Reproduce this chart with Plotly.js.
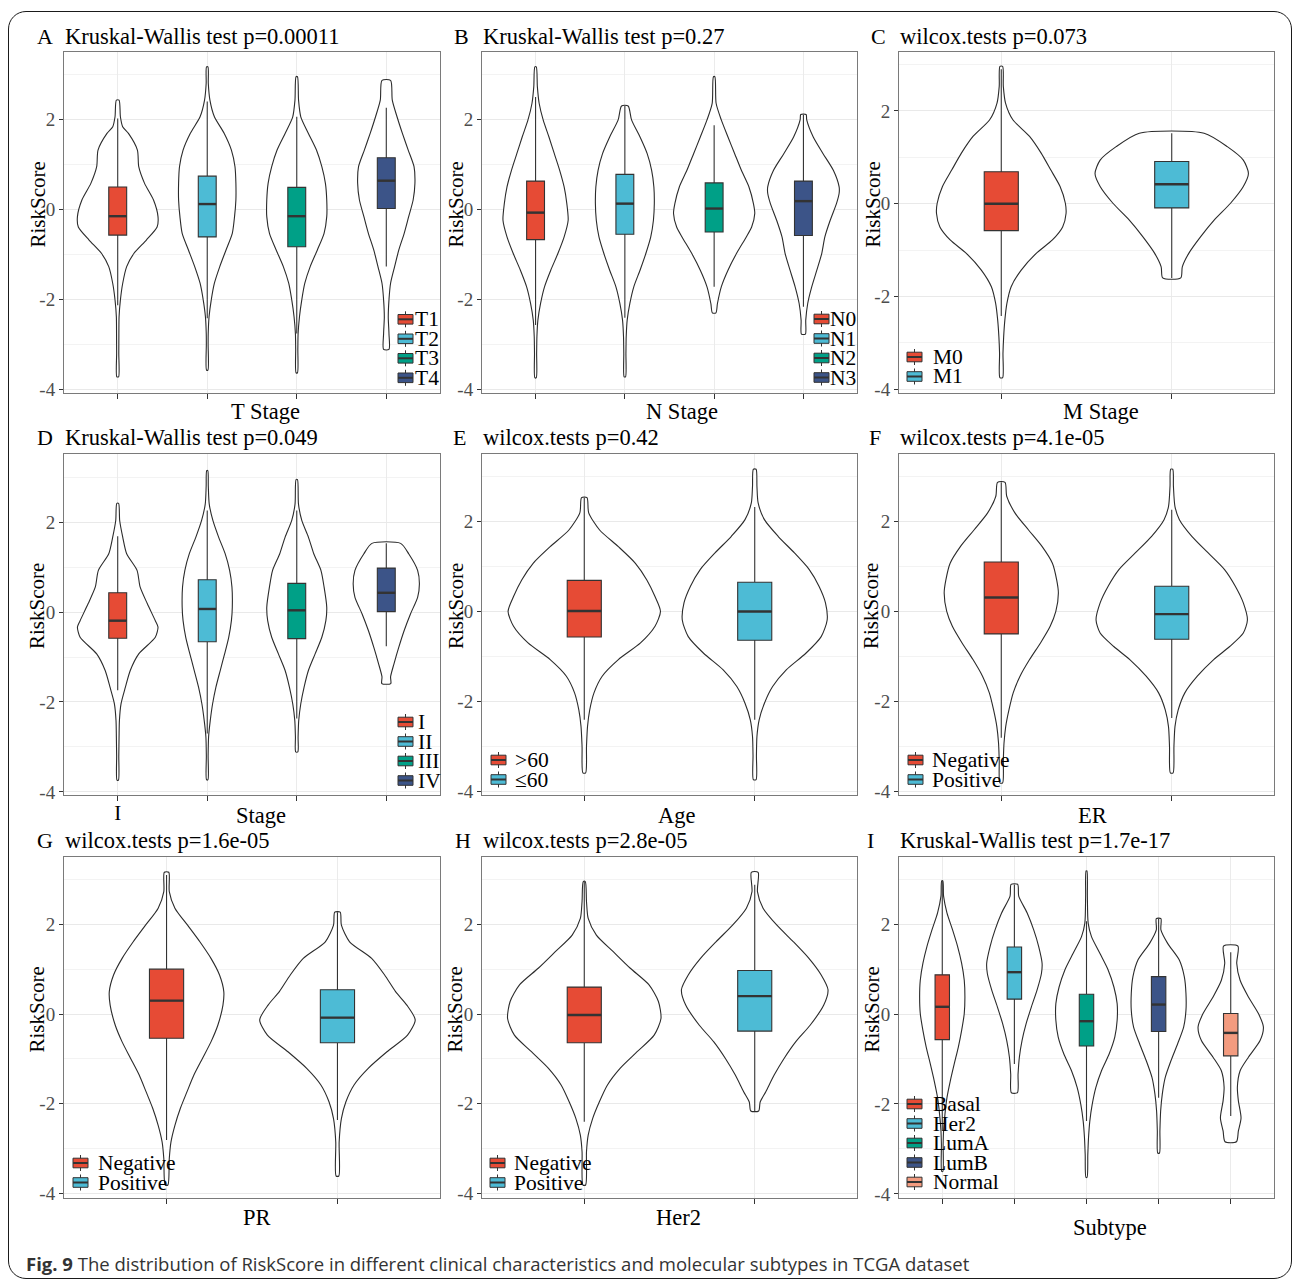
<!DOCTYPE html>
<html><head><meta charset="utf-8">
<script src="https://cdn.plot.ly/plotly-3.0.1.min.js"></script>
<style>
html,body{margin:0;padding:0;background:#fff;}
#wrap{position:relative;width:1295px;height:1282px;overflow:hidden;}
#chart{position:absolute;left:0;top:0;width:1295px;height:1282px;}
#frame{position:absolute;left:8px;top:11px;width:1282px;height:1266px;border:1.5px solid #1a1a1a;border-radius:18px;pointer-events:none;}
</style></head>
<body><div id="wrap"><div id="chart"></div><div id="frame"></div></div>
<script>
// ---------------- DATA ----------------
const yTickVals = [-4, -2, 0, 2];
const yTickText = ['-4', '-2', '0', '2'];
const npgColors = ['#E64B35', '#4DBBD5', '#00A087', '#3C5488', '#F39B7F'];

// A: T Stage
const tStageGroups = ['T1', 'T2', 'T3', 'T4'];
const tStageQ1 = [-0.57, -0.61, -0.83, 0.02];
const tStageMedian = [-0.15, 0.12, -0.15, 0.64];
const tStageQ3 = [0.50, 0.74, 0.49, 1.15];
const tStageLower = [-2.13, -2.42, -2.76, -1.27];
const tStageUpper = [2.02, 2.40, 2.06, 2.26];
const tStageViolinY = [
  [-3.72, -3.2, -2.76, -2.39, -2.01, -1.64, -1.27, -0.98, -0.68, -0.39, -0.16, 0.21, 0.58, 0.95, 1.32, 1.69, 1.84, 2.06, 2.43],
  [-3.57, -3.0, -2.76, -2.39, -2.01, -1.64, -1.27, -0.9, -0.53, -0.16, 0.21, 0.58, 0.95, 1.32, 1.69, 2.06, 2.43, 2.8, 3.17],
  [-3.63, -3.1, -2.76, -2.39, -2.01, -1.64, -1.27, -0.9, -0.53, -0.16, 0.21, 0.58, 0.95, 1.32, 1.69, 2.06, 2.43, 2.95],
  [-3.11, -2.76, -2.39, -2.01, -1.64, -1.27, -0.9, -0.53, -0.16, 0.21, 0.58, 0.95, 1.32, 1.69, 2.06, 2.43, 2.87]
];
const tStageViolinHalfWidth = [
  [0.01, 0.012, 0.013, 0.015, 0.03, 0.056, 0.10, 0.18, 0.32, 0.44, 0.45, 0.40, 0.30, 0.235, 0.22, 0.12, 0.055, 0.03, 0.015],
  [0.008, 0.01, 0.011, 0.02, 0.045, 0.08, 0.14, 0.21, 0.28, 0.305, 0.32, 0.32, 0.31, 0.27, 0.19, 0.08, 0.03, 0.012, 0.008],
  [0.008, 0.012, 0.015, 0.03, 0.056, 0.09, 0.15, 0.23, 0.305, 0.335, 0.335, 0.32, 0.28, 0.22, 0.13, 0.045, 0.02, 0.008],
  [0.03, 0.03, 0.022, 0.03, 0.048, 0.093, 0.14, 0.2, 0.25, 0.30, 0.32, 0.31, 0.245, 0.18, 0.12, 0.067, 0.048]
];

// B: N Stage
const nStageGroups = ['N0', 'N1', 'N2', 'N3'];
const nStageQ1 = [-0.67, -0.55, -0.50, -0.58];
const nStageMedian = [-0.07, 0.13, 0.02, 0.185];
const nStageQ3 = [0.63, 0.78, 0.59, 0.63];
const nStageLower = [-2.57, -2.41, -1.72, -2.16];
const nStageUpper = [2.50, 2.30, 1.87, 2.11];
const nStageViolinY = [
  [-3.74, -3.2, -2.83, -2.46, -2.09, -1.72, -1.35, -0.98, -0.61, -0.24, 0.13, 0.5, 0.87, 1.24, 1.61, 1.99, 2.36, 2.73, 3.17],
  [-3.72, -3.2, -2.83, -2.46, -2.09, -1.72, -1.35, -0.98, -0.61, -0.24, 0.13, 0.5, 0.87, 1.24, 1.61, 1.99, 2.30],
  [-2.30, -2.09, -1.72, -1.35, -0.98, -0.61, -0.39, -0.09, 0.13, 0.5, 0.87, 1.24, 1.61, 1.99, 2.36, 2.95],
  [-2.77, -2.46, -2.09, -1.72, -1.35, -0.98, -0.61, -0.24, 0.13, 0.36, 0.5, 0.87, 1.24, 1.61, 1.99, 2.11]
];
const nStageViolinHalfWidth = [
  [0.008, 0.012, 0.015, 0.026, 0.056, 0.10, 0.17, 0.25, 0.32, 0.365, 0.35, 0.32, 0.27, 0.21, 0.15, 0.085, 0.04, 0.02, 0.008],
  [0.008, 0.012, 0.015, 0.026, 0.056, 0.10, 0.17, 0.235, 0.29, 0.32, 0.33, 0.325, 0.30, 0.25, 0.17, 0.075, 0.037],
  [0.02, 0.037, 0.08, 0.155, 0.25, 0.36, 0.42, 0.455, 0.44, 0.39, 0.305, 0.23, 0.155, 0.08, 0.022, 0.008],
  [0.022, 0.026, 0.048, 0.093, 0.15, 0.205, 0.24, 0.30, 0.37, 0.40, 0.40, 0.335, 0.22, 0.11, 0.037, 0.03]
];

// C: M Stage
const mStageGroups = ['M0', 'M1'];
const mStageQ1 = [-0.58, -0.09];
const mStageMedian = [0.0, 0.42];
const mStageQ3 = [0.69, 0.91];
const mStageLower = [-2.42, -1.60];
const mStageUpper = [2.90, 1.52];
const mStageViolinY = [
  [-3.75, -3.23, -2.87, -2.51, -2.15, -1.79, -1.43, -1.07, -0.78, -0.50, -0.21, 0.01, 0.37, 0.73, 1.09, 1.45, 1.81, 2.17, 2.53, 2.96],
  [-1.60, -1.36, -1.07, -0.71, -0.35, 0.01, 0.37, 0.65, 0.94, 1.23, 1.52]
];
const mStageViolinHalfWidth = [
  [0.008, 0.01, 0.014, 0.021, 0.033, 0.058, 0.117, 0.205, 0.30, 0.36, 0.38, 0.376, 0.345, 0.29, 0.234, 0.166, 0.068, 0.025, 0.012, 0.008],
  [0.053, 0.062, 0.10, 0.17, 0.25, 0.345, 0.42, 0.45, 0.42, 0.326, 0.19]
];

// D: Stage
const stageGroups = ['I', 'II', 'III', 'IV'];
const stageQ1 = [-0.58, -0.66, -0.59, 0.01];
const stageMedian = [-0.19, 0.07, 0.04, 0.43];
const stageQ3 = [0.43, 0.72, 0.64, 0.98];
const stageLower = [-1.74, -2.70, -2.37, -0.76];
const stageUpper = [1.69, 2.26, 2.26, 1.53];
const stageViolinY = [
  [-3.74, -3.2, -2.78, -2.41, -2.04, -1.67, -1.30, -0.93, -0.56, -0.33, -0.19, 0.19, 0.56, 0.93, 1.30, 1.67, 2.04, 2.42],
  [-3.73, -3.2, -2.78, -2.41, -2.04, -1.67, -1.30, -0.93, -0.56, -0.19, 0.11, 0.56, 0.93, 1.30, 1.67, 2.04, 2.41, 2.8, 3.15],
  [-3.11, -2.78, -2.41, -2.04, -1.67, -1.30, -0.93, -0.56, -0.19, 0.11, 0.56, 0.93, 1.30, 1.67, 2.04, 2.41, 2.95],
  [-1.59, -1.44, -1.15, -0.78, -0.41, -0.04, 0.33, 0.63, 0.93, 1.30, 1.53]
];
const stageViolinHalfWidth = [
  [0.008, 0.012, 0.015, 0.019, 0.037, 0.086, 0.14, 0.235, 0.42, 0.45, 0.42, 0.33, 0.25, 0.216, 0.10, 0.056, 0.022, 0.01],
  [0.008, 0.01, 0.015, 0.034, 0.06, 0.097, 0.145, 0.194, 0.24, 0.27, 0.28, 0.276, 0.25, 0.20, 0.127, 0.063, 0.022, 0.012, 0.006],
  [0.012, 0.015, 0.022, 0.045, 0.082, 0.13, 0.205, 0.28, 0.325, 0.335, 0.305, 0.27, 0.19, 0.13, 0.056, 0.019, 0.008],
  [0.05, 0.048, 0.086, 0.14, 0.2, 0.27, 0.35, 0.37, 0.35, 0.25, 0.16]
];

// E: Age
const ageGroups = ['>60', '≤60'];
const ageQ1 = [-0.57, -0.64];
const ageMedian = [0.01, 0.0];
const ageQ3 = [0.69, 0.65];
const ageLower = [-2.41, -2.41];
const ageUpper = [2.53, 2.32];
const ageViolinY = [
  [-3.59, -3.0, -2.56, -2.19, -1.81, -1.44, -1.07, -0.70, -0.33, 0.0, 0.33, 0.70, 1.07, 1.44, 1.81, 2.19, 2.53],
  [-3.74, -3.2, -2.78, -2.41, -2.04, -1.67, -1.30, -0.93, -0.56, -0.19, 0.19, 0.56, 0.93, 1.30, 1.67, 2.04, 2.41, 2.78, 3.16]
];
const ageViolinHalfWidth = [
  [0.008, 0.013, 0.019, 0.032, 0.057, 0.105, 0.20, 0.33, 0.415, 0.447, 0.415, 0.367, 0.30, 0.20, 0.09, 0.026, 0.016],
  [0.008, 0.01, 0.013, 0.026, 0.057, 0.105, 0.185, 0.30, 0.39, 0.425, 0.415, 0.377, 0.32, 0.233, 0.137, 0.057, 0.02, 0.013, 0.008]
];

// F: ER
const erGroups = ['Negative', 'Positive'];
const erQ1 = [-0.50, -0.62];
const erMedian = [0.31, -0.06];
const erQ3 = [1.10, 0.56];
const erLower = [-2.81, -2.37];
const erUpper = [2.87, 2.26];
const erViolinY = [
  [-3.81, -3.3, -2.93, -2.56, -2.19, -1.81, -1.44, -1.07, -0.70, -0.33, 0.0, 0.41, 0.70, 1.07, 1.44, 1.81, 2.19, 2.56, 2.87],
  [-3.59, -3.0, -2.56, -2.19, -1.81, -1.44, -1.07, -0.78, -0.48, -0.19, 0.19, 0.56, 0.93, 1.30, 1.67, 2.04, 2.33, 2.78, 3.16]
];
const erViolinHalfWidth = [
  [0.008, 0.012, 0.016, 0.026, 0.045, 0.07, 0.11, 0.166, 0.23, 0.287, 0.32, 0.335, 0.325, 0.30, 0.24, 0.16, 0.08, 0.032, 0.022],
  [0.008, 0.013, 0.019, 0.038, 0.077, 0.15, 0.246, 0.34, 0.42, 0.444, 0.42, 0.373, 0.31, 0.214, 0.118, 0.045, 0.019, 0.01, 0.006]
];

// G: PR
const prGroups = ['Negative', 'Positive'];
const prQ1 = [-0.54, -0.64];
const prMedian = [0.30, -0.08];
const prQ3 = [1.00, 0.54];
const prLower = [-2.81, -2.36];
const prUpper = [3.10, 2.27];
const prViolinY = [
  [-3.81, -3.22, -2.85, -2.48, -2.10, -1.73, -1.36, -0.99, -0.62, -0.25, 0.20, 0.50, 0.87, 1.24, 1.61, 1.98, 2.36, 2.73, 3.16],
  [-3.61, -2.85, -2.33, -1.96, -1.58, -1.21, -0.84, -0.47, -0.13, 0.20, 0.50, 0.87, 1.24, 1.61, 1.98, 2.27]
];
const prViolinHalfWidth = [
  [0.008, 0.016, 0.026, 0.049, 0.081, 0.12, 0.16, 0.21, 0.26, 0.30, 0.33, 0.335, 0.31, 0.26, 0.195, 0.123, 0.049, 0.016, 0.013],
  [0.008, 0.01, 0.023, 0.049, 0.097, 0.18, 0.29, 0.41, 0.455, 0.406, 0.34, 0.276, 0.2, 0.071, 0.023, 0.016]
];

// H: Her2
const her2Groups = ['Negative', 'Positive'];
const her2Q1 = [-0.64, -0.38];
const her2Median = [-0.02, 0.40];
const her2Q3 = [0.60, 0.97];
const her2Lower = [-2.40, -2.16];
const her2Upper = [2.95, 2.88];
const her2ViolinY = [
  [-3.81, -3.07, -2.70, -2.33, -1.96, -1.58, -1.21, -0.84, -0.47, -0.10, 0.28, 0.65, 1.02, 1.39, 1.76, 2.13, 2.51, 2.95],
  [-2.16, -1.96, -1.73, -1.36, -0.99, -0.62, -0.25, 0.20, 0.54, 0.87, 1.24, 1.61, 1.98, 2.36, 2.73, 3.16]
];
const her2ViolinHalfWidth = [
  [0.008, 0.013, 0.023, 0.049, 0.088, 0.136, 0.21, 0.31, 0.41, 0.45, 0.435, 0.38, 0.27, 0.17, 0.071, 0.023, 0.013, 0.006],
  [0.023, 0.032, 0.065, 0.114, 0.172, 0.24, 0.325, 0.405, 0.43, 0.39, 0.318, 0.227, 0.13, 0.049, 0.016, 0.02]
];

// I: Subtype
const subtypeGroups = ['Basal', 'Her2', 'LumA', 'LumB', 'Normal'];
const subtypeQ1 = [-0.57, 0.33, -0.71, -0.39, -0.93];
const subtypeMedian = [0.16, 0.93, -0.16, 0.21, -0.42];
const subtypeQ3 = [0.87, 1.49, 0.44, 0.83, 0.01];
const subtypeLower = [-2.60, -1.11, -2.38, -1.86, -2.27];
const subtypeUpper = [2.96, 2.88, 2.06, 2.12, 1.37];
const subtypeViolinY = [
  [-3.5, -2.9, -2.60, -2.23, -1.86, -1.49, -1.11, -0.74, -0.37, 0.01, 0.38, 0.75, 1.13, 1.50, 1.87, 2.25, 2.62, 2.96],
  [-1.75, -1.34, -0.96, -0.59, -0.22, 0.16, 0.53, 0.90, 1.13, 1.50, 1.87, 2.25, 2.62, 2.88],
  [-3.63, -3.13, -2.75, -2.38, -2.01, -1.63, -1.26, -0.89, -0.51, -0.14, 0.23, 0.60, 0.98, 1.35, 1.72, 2.02, 2.62, 3.18],
  [-3.09, -2.60, -2.16, -1.78, -1.41, -1.04, -0.66, -0.29, 0.08, 0.46, 0.83, 1.20, 1.57, 1.87, 2.12],
  [-2.84, -2.60, -2.31, -1.93, -1.63, -1.26, -0.96, -0.59, -0.29, 0.01, 0.38, 0.75, 1.13, 1.51]
];
const subtypeViolinHalfWidth = [
  [0.008, 0.012, 0.018, 0.037, 0.065, 0.111, 0.166, 0.222, 0.268, 0.305, 0.314, 0.305, 0.268, 0.213, 0.143, 0.065, 0.018, 0.008],
  [0.042, 0.051, 0.069, 0.106, 0.162, 0.236, 0.314, 0.375, 0.384, 0.337, 0.268, 0.176, 0.06, 0.046],
  [0.008, 0.018, 0.028, 0.046, 0.079, 0.13, 0.208, 0.314, 0.393, 0.425, 0.425, 0.38, 0.30, 0.185, 0.069, 0.023, 0.012, 0.006],
  [0.012, 0.018, 0.028, 0.051, 0.092, 0.171, 0.264, 0.347, 0.379, 0.379, 0.356, 0.287, 0.125, 0.032, 0.032],
  [0.079, 0.106, 0.143, 0.106, 0.092, 0.13, 0.245, 0.407, 0.453, 0.384, 0.245, 0.13, 0.083, 0.10]
];

const panelTitles = ['Kruskal-Wallis test p=0.00011', 'Kruskal-Wallis test p=0.27', 'wilcox.tests p=0.073',
  'Kruskal-Wallis test p=0.049', 'wilcox.tests p=0.42', 'wilcox.tests p=4.1e-05',
  'wilcox.tests p=1.6e-05', 'wilcox.tests p=2.8e-05', 'Kruskal-Wallis test p=1.7e-17'];
const panelLetters = ['A', 'B', 'C', 'D', 'E', 'F', 'G', 'H', 'I'];
const axisTitles = ['T Stage', 'N Stage', 'M Stage', 'Stage', 'Age', 'ER', 'PR', 'Her2', 'Subtype'];
const stageTickText = ['I', '', '', ''];
const captionBold = 'Fig. 9';
const captionText = 'The distribution of RiskScore in different clinical characteristics and molecular subtypes in TCGA dataset';

// ---------------- LAYOUT GEOMETRY (pixels) ----------------
const W = 1295, H = 1282;
const fx = x => x / W, fy = y => 1 - y / H;
const colPx = [[64, 440], [482, 857], [899, 1274]];
const rowPx = [[52, 393], [453.5, 795], [857, 1198]];
const titleY = [36, 438, 840];

const panels = [
  {g: tStageGroups, q1: tStageQ1, med: tStageMedian, q3: tStageQ3, lo: tStageLower, hi: tStageUpper, vy: tStageViolinY, vw: tStageViolinHalfWidth,
   col: 0, row: 0, yr: [-4.08, 3.50], letterX: 36, ytX: 37, xtX: 265, xtY: 411, leg: [398, 414, 319.3]},
  {g: nStageGroups, q1: nStageQ1, med: nStageMedian, q3: nStageQ3, lo: nStageLower, hi: nStageUpper, vy: nStageViolinY, vw: nStageViolinHalfWidth,
   col: 1, row: 0, yr: [-4.08, 3.50], letterX: 453, ytX: 455, xtX: 682, xtY: 411, leg: [814, 829, 319]},
  {g: mStageGroups, q1: mStageQ1, med: mStageMedian, q3: mStageQ3, lo: mStageLower, hi: mStageUpper, vy: mStageViolinY, vw: mStageViolinHalfWidth,
   col: 2, row: 0, yr: [-4.08, 3.27], letterX: 870, ytX: 872, xtX: 1101, xtY: 411, leg: [907, 932, 357]},
  {g: stageGroups, q1: stageQ1, med: stageMedian, q3: stageQ3, lo: stageLower, hi: stageUpper, vy: stageViolinY, vw: stageViolinHalfWidth,
   col: 0, row: 1, yr: [-4.07, 3.53], letterX: 36, ytX: 37, xtX: 261, xtY: 815, leg: [398, 417, 722], tickText: stageTickText},
  {g: ageGroups, q1: ageQ1, med: ageMedian, q3: ageQ3, lo: ageLower, hi: ageUpper, vy: ageViolinY, vw: ageViolinHalfWidth,
   col: 1, row: 1, yr: [-4.08, 3.51], letterX: 452, ytX: 456, xtX: 677, xtY: 815, leg: [491, 514, 760]},
  {g: erGroups, q1: erQ1, med: erMedian, q3: erQ3, lo: erLower, hi: erUpper, vy: erViolinY, vw: erViolinHalfWidth,
   col: 2, row: 1, yr: [-4.08, 3.51], letterX: 868, ytX: 871, xtX: 1092, xtY: 815, leg: [908, 931, 760]},
  {g: prGroups, q1: prQ1, med: prMedian, q3: prQ3, lo: prLower, hi: prUpper, vy: prViolinY, vw: prViolinHalfWidth,
   col: 0, row: 2, yr: [-4.10, 3.50], letterX: 36, ytX: 37, xtX: 257, xtY: 1217, leg: [73, 97, 1163]},
  {g: her2Groups, q1: her2Q1, med: her2Median, q3: her2Q3, lo: her2Lower, hi: her2Upper, vy: her2ViolinY, vw: her2ViolinHalfWidth,
   col: 1, row: 2, yr: [-4.10, 3.50], letterX: 454, ytX: 455, xtX: 678, xtY: 1217, leg: [490, 513, 1163]},
  {g: subtypeGroups, q1: subtypeQ1, med: subtypeMedian, q3: subtypeQ3, lo: subtypeLower, hi: subtypeUpper, vy: subtypeViolinY, vw: subtypeViolinHalfWidth,
   col: 2, row: 2, yr: [-4.09, 3.49], letterX: 866, ytX: 872, xtX: 1110, xtY: 1227, leg: [907, 932, 1104]}
];

const SERIF = 'Liberation Serif, Times New Roman, serif';
const traces = [];
const annotations = [];
const shapes = [];
const layout = {
  width: W, height: H, autosize: false,
  margin: {l: 0, r: 0, t: 0, b: 0, pad: 0},
  paper_bgcolor: 'rgba(0,0,0,0)', plot_bgcolor: '#ffffff',
  showlegend: false, boxmode: 'overlay',
  font: {family: SERIF, color: '#000'},
  annotations: annotations, shapes: shapes
};

const NP = panels.length;
panels.forEach((p, k) => {
  const n = k + 1;
  const sfx = n > 1 ? String(n) : '';
  const xa = 'x' + sfx, ya = 'y' + sfx;
  const on = n + NP;                     // overlay axes for the boxes (drawn above the violins)
  const oxa = 'x' + on, oya = 'y' + on;
  const [x0, x1] = colPx[p.col];
  const [y0, y1] = rowPx[p.row];
  const nG = p.g.length;
  const xr = [0.4, nG + 0.6];
  layout['xaxis' + sfx] = {
    domain: [fx(x0), fx(x1)], range: xr, anchor: ya,
    tickmode: 'array', tickvals: p.g.map((_, i) => i + 1),
    ticktext: p.g.map((_, i) => (p.tickText ? p.tickText[i] : '')),
    tickfont: {family: SERIF, size: 21, color: '#000'}, ticklabelstandoff: -6,
    ticks: 'outside', ticklen: 5, tickcolor: '#333', tickwidth: 1,
    showgrid: true, gridcolor: '#ebebeb', gridwidth: 1, zeroline: false,
    showline: true, mirror: true, linecolor: '#7a7a7a', linewidth: 1, fixedrange: true
  };
  layout['yaxis' + sfx] = {
    domain: [fy(y1), fy(y0)], range: p.yr, anchor: xa,
    tickmode: 'array', tickvals: yTickVals, ticktext: yTickText,
    tickfont: {family: SERIF, size: 19, color: '#4d4d4d'},
    ticks: 'outside', ticklen: 4, tickcolor: '#333', tickwidth: 1,
    showgrid: true, gridcolor: '#e9e9e9', gridwidth: 1, zeroline: false,
    minor: {tickmode: 'array', tickvals: [-3, -1, 1, 3], showgrid: true, gridcolor: '#f3f3f3', gridwidth: 1, ticks: ''},
    showline: true, mirror: true, linecolor: '#7a7a7a', linewidth: 1, fixedrange: true
  };
  layout['xaxis' + on] = {overlaying: xa, anchor: oya, range: xr, visible: false, showgrid: false, zeroline: false, fixedrange: true};
  layout['yaxis' + on] = {overlaying: ya, anchor: oxa, range: p.yr, visible: false, showgrid: false, zeroline: false, fixedrange: true};

  // violin outlines (density profile)
  p.g.forEach((g, i) => {
    const c = i + 1, ys = p.vy[i], ws = p.vw[i];
    const m = ys.length;
    const xs = [], yy = [];
    for (let j = 0; j < m; j++) { xs.push(c - ws[j]); yy.push(ys[j]); }
    for (let j = m - 1; j >= 0; j--) { xs.push(c + ws[j]); yy.push(ys[j]); }
    xs.push(c - ws[0]); yy.push(ys[0]);
    traces.push({type: 'scatter', mode: 'lines', x: xs, y: yy, xaxis: xa, yaxis: ya,
      fill: 'toself', fillcolor: '#ffffff',
      line: {color: '#2b2b2b', width: 1.1, shape: 'spline', smoothing: 0.7},
      showlegend: false, hoverinfo: 'skip'});
  });
  // boxplots on the overlay axes
  p.g.forEach((g, i) => {
    traces.push({type: 'box', name: g, x: [i + 1], q1: [p.q1[i]], median: [p.med[i]], q3: [p.q3[i]],
      lowerfence: [p.lo[i]], upperfence: [p.hi[i]], width: 0.2, whiskerwidth: 0,
      fillcolor: npgColors[i], line: {color: '#333333', width: 1.1}, boxpoints: false,
      xaxis: oxa, yaxis: oya, showlegend: false, hoverinfo: 'skip'});
    traces.push({type: 'scatter', mode: 'lines', x: [i + 1 - 0.1, i + 1 + 0.1], y: [p.med[i], p.med[i]],
      xaxis: oxa, yaxis: oya, line: {color: '#333333', width: 2.4}, showlegend: false, hoverinfo: 'skip'});
  });

  // titles
  const tY = titleY[p.row];
  annotations.push({xref: 'paper', yref: 'paper', x: fx(p.letterX), y: fy(tY), xanchor: 'left', yanchor: 'middle',
    text: panelLetters[k], showarrow: false, font: {family: SERIF, size: 22, color: '#000'}, borderpad: 0});
  annotations.push({xref: 'paper', yref: 'paper', x: fx(x0), y: fy(tY), xanchor: 'left', yanchor: 'middle',
    text: panelTitles[k], showarrow: false, font: {family: SERIF, size: 22.5, color: '#000'}, borderpad: 0});
  annotations.push({xref: 'paper', yref: 'paper', x: fx(p.xtX), y: fy(p.xtY), xanchor: 'center', yanchor: 'middle',
    text: axisTitles[k], showarrow: false, font: {family: SERIF, size: 22.5, color: '#000'}, borderpad: 0});
  annotations.push({xref: 'paper', yref: 'paper', x: fx(p.ytX), y: fy(y0 + 152.5), xanchor: 'center', yanchor: 'middle',
    text: 'RiskScore', textangle: -90, showarrow: false, font: {family: SERIF, size: 21, color: '#000'}, borderpad: 0});

  // legend (ggplot-style boxplot keys)
  const [kx, tx, ry0] = p.leg;
  p.g.forEach((g, i) => {
    const cy = ry0 + i * 19.5;
    shapes.push({type: 'line', xref: 'paper', yref: 'paper', x0: fx(kx + 7.5), x1: fx(kx + 7.5), y0: fy(cy - 8), y1: fy(cy + 8),
      line: {color: '#333', width: 1}, layer: 'above'});
    shapes.push({type: 'rect', xref: 'paper', yref: 'paper', x0: fx(kx), x1: fx(kx + 15), y0: fy(cy - 4.8), y1: fy(cy + 4.8),
      fillcolor: npgColors[i], line: {color: '#333', width: 1}, layer: 'above'});
    shapes.push({type: 'line', xref: 'paper', yref: 'paper', x0: fx(kx), x1: fx(kx + 15), y0: fy(cy), y1: fy(cy),
      line: {color: '#333', width: 2}, layer: 'above'});
    annotations.push({xref: 'paper', yref: 'paper', x: fx(tx), y: fy(cy), xanchor: 'left', yanchor: 'middle',
      text: g, showarrow: false, font: {family: SERIF, size: 21.5, color: '#000'}, borderpad: 0});
  });
});

// caption
annotations.push({xref: 'paper', yref: 'paper', x: fx(25), y: fy(1263), xanchor: 'left', yanchor: 'middle',
  text: '<b>' + captionBold + '</b> ' + captionText, showarrow: false,
  font: {family: 'Open Sans, Noto Sans, sans-serif', size: 18.5, color: '#333'}, borderpad: 0});

Plotly.newPlot('chart', traces, layout, {staticPlot: true, displayModeBar: false});
</script>
</body></html>
